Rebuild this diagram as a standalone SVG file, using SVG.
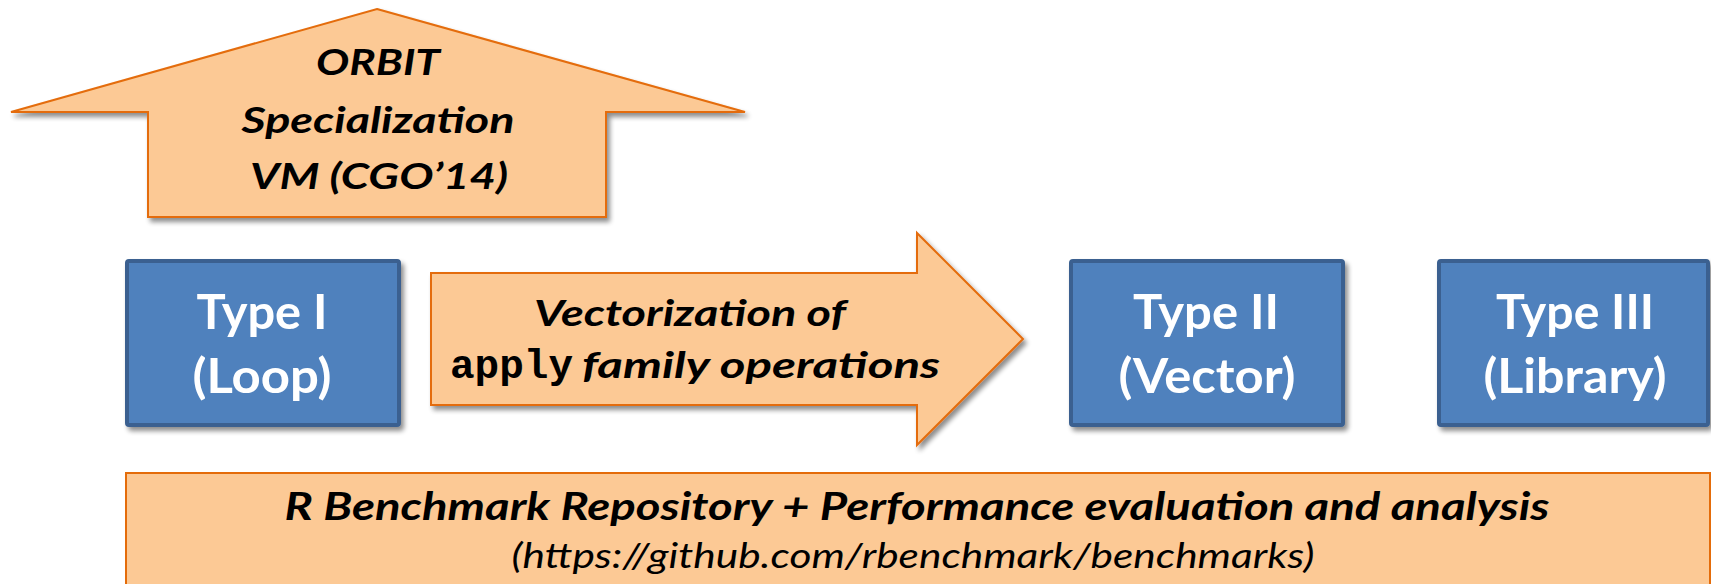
<svg xmlns="http://www.w3.org/2000/svg" width="1711" height="584" viewBox="0 0 1711 584">
  <defs>
    <filter id="shadow" x="-10%" y="-10%" width="125%" height="130%">
      <feGaussianBlur in="SourceAlpha" stdDeviation="2.5"/>
      <feOffset dx="3" dy="4" result="off"/>
      <feComponentTransfer><feFuncA type="linear" slope="0.45"/></feComponentTransfer>
      <feMerge><feMergeNode/><feMergeNode in="SourceGraphic"/></feMerge>
    </filter>
  </defs>
  <style>
    .orange { fill: #FCC995; stroke: #E46C0A; stroke-width: 2; stroke-linejoin: miter; }
    .blue { fill: #4F81BD; stroke: #3A6090; stroke-width: 4; }
    .typelabel { font-family: Lato, "Liberation Sans", sans-serif; font-weight: bold; font-size: 48px; fill: #FFFFFF; text-anchor: middle; }
    .bi { font-family: Lato, "Liberation Sans", sans-serif; font-weight: bold; font-style: italic; fill: #000000; text-anchor: middle; }
    .it { font-family: Lato, "Liberation Sans", sans-serif; font-style: italic; fill: #000000; text-anchor: middle; }
    .mono { font-family: "Liberation Mono", "Courier New", monospace; font-weight: bold; fill: #000000; }
  </style>

  <rect width="1711" height="584" fill="#FFFFFF"/>

  <!-- upward arrow -->
  <g id="orbit">
    <path class="orange" filter="url(#shadow)" d="M377,9 L745,112 L606,112 L606,217 L148,217 L148,112 L11,112 Z"/>
    <text class="bi" font-size="37" x="378" y="75" textLength="124" lengthAdjust="spacingAndGlyphs">ORBIT</text>
    <text class="bi" font-size="37" x="378" y="133" textLength="273" lengthAdjust="spacingAndGlyphs">Specialization</text>
    <text class="bi" font-size="37" x="379" y="189" textLength="258" lengthAdjust="spacingAndGlyphs">VM (CGO’14)</text>
  </g>

  <!-- type boxes -->
  <g id="type1">
    <rect class="blue" filter="url(#shadow)" x="127" y="261" width="272" height="164" rx="2"/>
    <text class="typelabel" x="262" y="329" textLength="131" lengthAdjust="spacingAndGlyphs">Type I</text>
    <text class="typelabel" x="262" y="393" textLength="139" lengthAdjust="spacingAndGlyphs">(Loop)</text>
  </g>

  <g id="type2">
    <rect class="blue" filter="url(#shadow)" x="1071" y="261" width="272" height="164" rx="2"/>
    <text class="typelabel" x="1206" y="329" textLength="146" lengthAdjust="spacingAndGlyphs">Type II</text>
    <text class="typelabel" x="1207" y="393" textLength="177" lengthAdjust="spacingAndGlyphs">(Vector)</text>
  </g>

  <g id="type3">
    <rect class="blue" filter="url(#shadow)" x="1439" y="261" width="269" height="164" rx="2"/>
    <text class="typelabel" x="1575" y="329" textLength="158" lengthAdjust="spacingAndGlyphs">Type III</text>
    <text class="typelabel" x="1575" y="393" textLength="183" lengthAdjust="spacingAndGlyphs">(Library)</text>
  </g>

  <!-- bottom banner -->
  <g id="benchmark">
    <rect class="orange" x="126" y="473" width="1584" height="130"/>
    <text class="bi" font-size="39" x="917" y="520" textLength="1265" lengthAdjust="spacingAndGlyphs">R Benchmark Repository + Performance evaluation and analysis</text>
    <text class="it" font-size="34" x="913" y="568" textLength="803" lengthAdjust="spacingAndGlyphs">(https://github.com/rbenchmark/benchmarks)</text>
  </g>

  <!-- connectors -->
  <g id="connectors">
    <g id="vectorize">
      <path class="orange" filter="url(#shadow)" d="M431,273 L917,273 L917,233 L1023,339 L917,445 L917,405 L431,405 Z"/>
      <text class="bi" font-size="37" x="690" y="326" textLength="312" lengthAdjust="spacingAndGlyphs">Vectorization of</text>
      <text class="mono" font-size="41" x="450" y="378">apply</text>
      <text class="bi" font-size="37" x="582" y="378" text-anchor="start" style="text-anchor:start" textLength="358" lengthAdjust="spacingAndGlyphs">family operations</text>
    </g>
  </g>
</svg>
